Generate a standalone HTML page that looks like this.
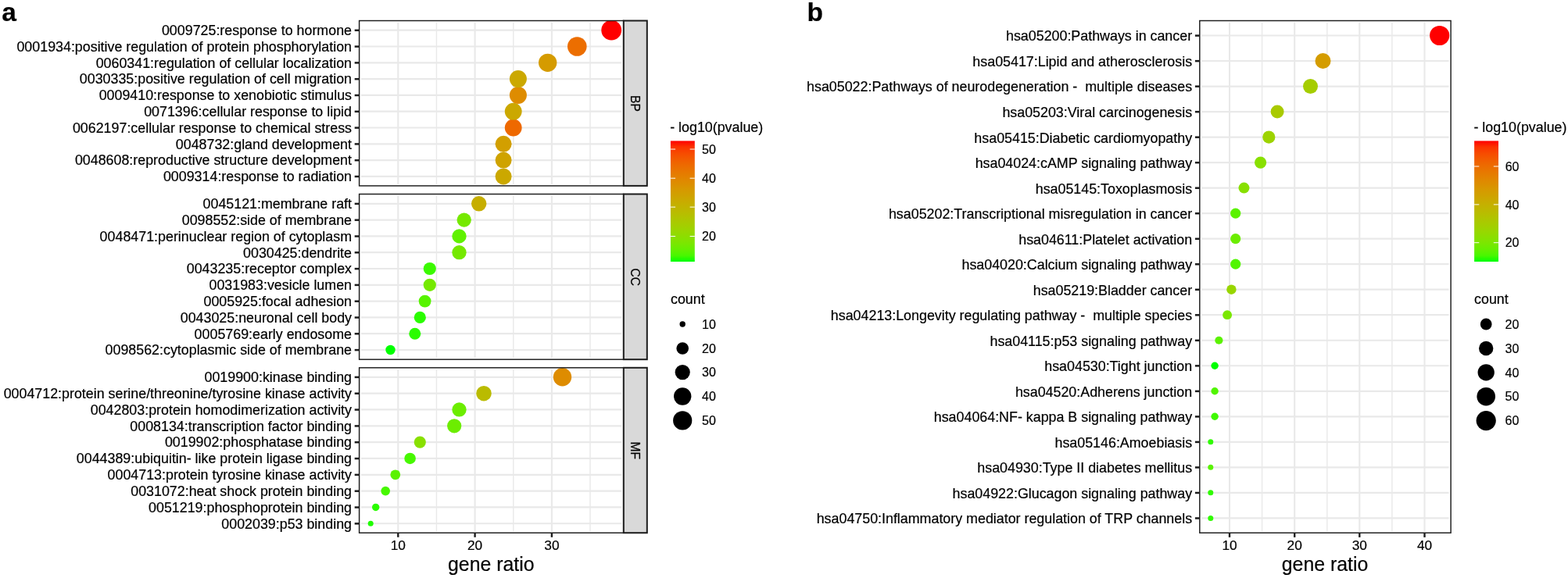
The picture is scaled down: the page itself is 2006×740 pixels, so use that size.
<!DOCTYPE html>
<html lang="en">
<head>
<meta charset="utf-8">
<title>GO and KEGG enrichment bubble plots</title>
<style>
html,body{margin:0;padding:0;background:#ffffff;}
body{width:2006px;height:740px;overflow:hidden;}
svg{display:block;font-family:"Liberation Sans",Arial,Helvetica,sans-serif;}
text{fill:#000000;stroke:#000000;stroke-width:0.2px;white-space:pre;}
</style>
</head>
<body>
<svg width="2006" height="740" viewBox="0 0 2006 740">
<rect x="0" y="0" width="2006" height="740" fill="#ffffff"/>
<rect x="459.6" y="26.5" width="338.20" height="211.40" fill="#ffffff"/>
<line x1="558.45" x2="558.45" y1="28.50" y2="235.90" stroke="#e9e9e9" stroke-width="1.4"/>
<line x1="656.75" x2="656.75" y1="28.50" y2="235.90" stroke="#e9e9e9" stroke-width="1.4"/>
<line x1="755.00" x2="755.00" y1="28.50" y2="235.90" stroke="#e9e9e9" stroke-width="1.4"/>
<line x1="509.30" x2="509.30" y1="28.50" y2="235.90" stroke="#e9e9e9" stroke-width="2.1"/>
<line x1="607.60" x2="607.60" y1="28.50" y2="235.90" stroke="#e9e9e9" stroke-width="2.1"/>
<line x1="705.90" x2="705.90" y1="28.50" y2="235.90" stroke="#e9e9e9" stroke-width="2.1"/>
<line x1="462.10" x2="795.30" y1="38.70" y2="38.70" stroke="#e9e9e9" stroke-width="2.2"/>
<line x1="462.10" x2="795.30" y1="59.50" y2="59.50" stroke="#e9e9e9" stroke-width="2.2"/>
<line x1="462.10" x2="795.30" y1="80.30" y2="80.30" stroke="#e9e9e9" stroke-width="2.2"/>
<line x1="462.10" x2="795.30" y1="101.10" y2="101.10" stroke="#e9e9e9" stroke-width="2.2"/>
<line x1="462.10" x2="795.30" y1="121.90" y2="121.90" stroke="#e9e9e9" stroke-width="2.2"/>
<line x1="462.10" x2="795.30" y1="142.70" y2="142.70" stroke="#e9e9e9" stroke-width="2.2"/>
<line x1="462.10" x2="795.30" y1="163.50" y2="163.50" stroke="#e9e9e9" stroke-width="2.2"/>
<line x1="462.10" x2="795.30" y1="184.30" y2="184.30" stroke="#e9e9e9" stroke-width="2.2"/>
<line x1="462.10" x2="795.30" y1="205.10" y2="205.10" stroke="#e9e9e9" stroke-width="2.2"/>
<line x1="462.10" x2="795.30" y1="225.90" y2="225.90" stroke="#e9e9e9" stroke-width="2.2"/>
<clipPath id="cp1"><rect x="459.6" y="26.5" width="338.20" height="211.40"/></clipPath>
<g clip-path="url(#cp1)">
<circle cx="644.10" cy="225.90" r="10.50" fill="#cba800"/>
<circle cx="644.10" cy="205.10" r="10.50" fill="#cfa300"/>
<circle cx="644.10" cy="184.30" r="10.50" fill="#d29f00"/>
<circle cx="656.70" cy="163.50" r="10.90" fill="#ee6900"/>
<circle cx="656.70" cy="142.70" r="10.90" fill="#cba800"/>
<circle cx="662.90" cy="121.90" r="11.00" fill="#de8c00"/>
<circle cx="662.90" cy="101.10" r="11.00" fill="#cba800"/>
<circle cx="700.70" cy="80.30" r="11.65" fill="#d59b00"/>
<circle cx="738.30" cy="59.50" r="12.30" fill="#ec6e00"/>
<circle cx="782.20" cy="38.70" r="12.90" fill="#ff0000"/>
</g>
<rect x="459.6" y="26.5" width="338.20" height="211.40" fill="none" stroke="#1c1c1c" stroke-width="1.45"/>
<line x1="453.70" x2="459.60" y1="38.80" y2="38.80" stroke="#1c1c1c" stroke-width="2.5"/>
<text xml:space="preserve" x="450.00" y="45.00" font-size="17.85px" text-anchor="end">0009725:response to hormone</text>
<line x1="453.70" x2="459.60" y1="59.60" y2="59.60" stroke="#1c1c1c" stroke-width="2.5"/>
<text xml:space="preserve" x="450.00" y="65.80" font-size="17.85px" text-anchor="end">0001934:positive regulation of protein phosphorylation</text>
<line x1="453.70" x2="459.60" y1="80.40" y2="80.40" stroke="#1c1c1c" stroke-width="2.5"/>
<text xml:space="preserve" x="450.00" y="86.60" font-size="17.85px" text-anchor="end">0060341:regulation of cellular localization</text>
<line x1="453.70" x2="459.60" y1="101.20" y2="101.20" stroke="#1c1c1c" stroke-width="2.5"/>
<text xml:space="preserve" x="450.00" y="107.40" font-size="17.85px" text-anchor="end">0030335:positive regulation of cell migration</text>
<line x1="453.70" x2="459.60" y1="122.00" y2="122.00" stroke="#1c1c1c" stroke-width="2.5"/>
<text xml:space="preserve" x="450.00" y="128.20" font-size="17.85px" text-anchor="end">0009410:response to xenobiotic stimulus</text>
<line x1="453.70" x2="459.60" y1="142.80" y2="142.80" stroke="#1c1c1c" stroke-width="2.5"/>
<text xml:space="preserve" x="450.00" y="149.00" font-size="17.85px" text-anchor="end">0071396:cellular response to lipid</text>
<line x1="453.70" x2="459.60" y1="163.60" y2="163.60" stroke="#1c1c1c" stroke-width="2.5"/>
<text xml:space="preserve" x="450.00" y="169.80" font-size="17.85px" text-anchor="end">0062197:cellular response to chemical stress</text>
<line x1="453.70" x2="459.60" y1="184.40" y2="184.40" stroke="#1c1c1c" stroke-width="2.5"/>
<text xml:space="preserve" x="450.00" y="190.60" font-size="17.85px" text-anchor="end">0048732:gland development</text>
<line x1="453.70" x2="459.60" y1="205.20" y2="205.20" stroke="#1c1c1c" stroke-width="2.5"/>
<text xml:space="preserve" x="450.00" y="211.40" font-size="17.85px" text-anchor="end">0048608:reproductive structure development</text>
<line x1="453.70" x2="459.60" y1="226.00" y2="226.00" stroke="#1c1c1c" stroke-width="2.5"/>
<text xml:space="preserve" x="450.00" y="232.20" font-size="17.85px" text-anchor="end">0009314:response to radiation</text>
<rect x="797.8" y="26.5" width="30.00" height="211.40" fill="#d9d9d9" stroke="#1c1c1c" stroke-width="2"/>
<text x="813.00" y="132.50" font-size="15.6px" text-anchor="middle" transform="rotate(90 813.00 132.50)" dy="5.6">BP</text>
<rect x="459.6" y="248.5" width="338.20" height="211.70" fill="#ffffff"/>
<line x1="558.45" x2="558.45" y1="250.50" y2="458.20" stroke="#e9e9e9" stroke-width="1.4"/>
<line x1="656.75" x2="656.75" y1="250.50" y2="458.20" stroke="#e9e9e9" stroke-width="1.4"/>
<line x1="755.00" x2="755.00" y1="250.50" y2="458.20" stroke="#e9e9e9" stroke-width="1.4"/>
<line x1="509.30" x2="509.30" y1="250.50" y2="458.20" stroke="#e9e9e9" stroke-width="2.1"/>
<line x1="607.60" x2="607.60" y1="250.50" y2="458.20" stroke="#e9e9e9" stroke-width="2.1"/>
<line x1="705.90" x2="705.90" y1="250.50" y2="458.20" stroke="#e9e9e9" stroke-width="2.1"/>
<line x1="462.10" x2="795.30" y1="260.80" y2="260.80" stroke="#e9e9e9" stroke-width="2.2"/>
<line x1="462.10" x2="795.30" y1="281.60" y2="281.60" stroke="#e9e9e9" stroke-width="2.2"/>
<line x1="462.10" x2="795.30" y1="302.40" y2="302.40" stroke="#e9e9e9" stroke-width="2.2"/>
<line x1="462.10" x2="795.30" y1="323.20" y2="323.20" stroke="#e9e9e9" stroke-width="2.2"/>
<line x1="462.10" x2="795.30" y1="344.00" y2="344.00" stroke="#e9e9e9" stroke-width="2.2"/>
<line x1="462.10" x2="795.30" y1="364.80" y2="364.80" stroke="#e9e9e9" stroke-width="2.2"/>
<line x1="462.10" x2="795.30" y1="385.60" y2="385.60" stroke="#e9e9e9" stroke-width="2.2"/>
<line x1="462.10" x2="795.30" y1="406.40" y2="406.40" stroke="#e9e9e9" stroke-width="2.2"/>
<line x1="462.10" x2="795.30" y1="427.20" y2="427.20" stroke="#e9e9e9" stroke-width="2.2"/>
<line x1="462.10" x2="795.30" y1="448.00" y2="448.00" stroke="#e9e9e9" stroke-width="2.2"/>
<clipPath id="cp2"><rect x="459.6" y="248.5" width="338.20" height="211.70"/></clipPath>
<g clip-path="url(#cp2)">
<circle cx="499.50" cy="448.00" r="6.20" fill="#00ff00"/>
<circle cx="530.80" cy="427.20" r="7.50" fill="#2afc00"/>
<circle cx="537.30" cy="406.40" r="7.60" fill="#2afc00"/>
<circle cx="543.60" cy="385.60" r="7.90" fill="#57f400"/>
<circle cx="549.80" cy="364.80" r="8.10" fill="#75e900"/>
<circle cx="549.80" cy="344.00" r="8.10" fill="#3bfa00"/>
<circle cx="587.50" cy="323.20" r="9.15" fill="#75e900"/>
<circle cx="587.50" cy="302.40" r="9.15" fill="#60f100"/>
<circle cx="593.70" cy="281.60" r="9.15" fill="#75e900"/>
<circle cx="612.70" cy="260.80" r="9.70" fill="#c6ae00"/>
</g>
<rect x="459.6" y="248.5" width="338.20" height="211.70" fill="none" stroke="#1c1c1c" stroke-width="1.45"/>
<line x1="453.70" x2="459.60" y1="260.90" y2="260.90" stroke="#1c1c1c" stroke-width="2.5"/>
<text xml:space="preserve" x="450.00" y="267.10" font-size="17.85px" text-anchor="end">0045121:membrane raft</text>
<line x1="453.70" x2="459.60" y1="281.70" y2="281.70" stroke="#1c1c1c" stroke-width="2.5"/>
<text xml:space="preserve" x="450.00" y="287.90" font-size="17.85px" text-anchor="end">0098552:side of membrane</text>
<line x1="453.70" x2="459.60" y1="302.50" y2="302.50" stroke="#1c1c1c" stroke-width="2.5"/>
<text xml:space="preserve" x="450.00" y="308.70" font-size="17.85px" text-anchor="end">0048471:perinuclear region of cytoplasm</text>
<line x1="453.70" x2="459.60" y1="323.30" y2="323.30" stroke="#1c1c1c" stroke-width="2.5"/>
<text xml:space="preserve" x="450.00" y="329.50" font-size="17.85px" text-anchor="end">0030425:dendrite</text>
<line x1="453.70" x2="459.60" y1="344.10" y2="344.10" stroke="#1c1c1c" stroke-width="2.5"/>
<text xml:space="preserve" x="450.00" y="350.30" font-size="17.85px" text-anchor="end">0043235:receptor complex</text>
<line x1="453.70" x2="459.60" y1="364.90" y2="364.90" stroke="#1c1c1c" stroke-width="2.5"/>
<text xml:space="preserve" x="450.00" y="371.10" font-size="17.85px" text-anchor="end">0031983:vesicle lumen</text>
<line x1="453.70" x2="459.60" y1="385.70" y2="385.70" stroke="#1c1c1c" stroke-width="2.5"/>
<text xml:space="preserve" x="450.00" y="391.90" font-size="17.85px" text-anchor="end">0005925:focal adhesion</text>
<line x1="453.70" x2="459.60" y1="406.50" y2="406.50" stroke="#1c1c1c" stroke-width="2.5"/>
<text xml:space="preserve" x="450.00" y="412.70" font-size="17.85px" text-anchor="end">0043025:neuronal cell body</text>
<line x1="453.70" x2="459.60" y1="427.30" y2="427.30" stroke="#1c1c1c" stroke-width="2.5"/>
<text xml:space="preserve" x="450.00" y="433.50" font-size="17.85px" text-anchor="end">0005769:early endosome</text>
<line x1="453.70" x2="459.60" y1="448.10" y2="448.10" stroke="#1c1c1c" stroke-width="2.5"/>
<text xml:space="preserve" x="450.00" y="454.30" font-size="17.85px" text-anchor="end">0098562:cytoplasmic side of membrane</text>
<rect x="797.8" y="248.5" width="30.00" height="211.70" fill="#d9d9d9" stroke="#1c1c1c" stroke-width="2"/>
<text x="813.00" y="354.65" font-size="15.6px" text-anchor="middle" transform="rotate(90 813.00 354.65)" dy="5.6">CC</text>
<rect x="459.6" y="470.8" width="338.20" height="211.40" fill="#ffffff"/>
<line x1="558.45" x2="558.45" y1="472.80" y2="680.20" stroke="#e9e9e9" stroke-width="1.4"/>
<line x1="656.75" x2="656.75" y1="472.80" y2="680.20" stroke="#e9e9e9" stroke-width="1.4"/>
<line x1="755.00" x2="755.00" y1="472.80" y2="680.20" stroke="#e9e9e9" stroke-width="1.4"/>
<line x1="509.30" x2="509.30" y1="472.80" y2="680.20" stroke="#e9e9e9" stroke-width="2.1"/>
<line x1="607.60" x2="607.60" y1="472.80" y2="680.20" stroke="#e9e9e9" stroke-width="2.1"/>
<line x1="705.90" x2="705.90" y1="472.80" y2="680.20" stroke="#e9e9e9" stroke-width="2.1"/>
<line x1="462.10" x2="795.30" y1="482.80" y2="482.80" stroke="#e9e9e9" stroke-width="2.2"/>
<line x1="462.10" x2="795.30" y1="503.63" y2="503.63" stroke="#e9e9e9" stroke-width="2.2"/>
<line x1="462.10" x2="795.30" y1="524.46" y2="524.46" stroke="#e9e9e9" stroke-width="2.2"/>
<line x1="462.10" x2="795.30" y1="545.29" y2="545.29" stroke="#e9e9e9" stroke-width="2.2"/>
<line x1="462.10" x2="795.30" y1="566.12" y2="566.12" stroke="#e9e9e9" stroke-width="2.2"/>
<line x1="462.10" x2="795.30" y1="586.95" y2="586.95" stroke="#e9e9e9" stroke-width="2.2"/>
<line x1="462.10" x2="795.30" y1="607.78" y2="607.78" stroke="#e9e9e9" stroke-width="2.2"/>
<line x1="462.10" x2="795.30" y1="628.61" y2="628.61" stroke="#e9e9e9" stroke-width="2.2"/>
<line x1="462.10" x2="795.30" y1="649.44" y2="649.44" stroke="#e9e9e9" stroke-width="2.2"/>
<line x1="462.10" x2="795.30" y1="670.27" y2="670.27" stroke="#e9e9e9" stroke-width="2.2"/>
<clipPath id="cp3"><rect x="459.6" y="470.8" width="338.20" height="211.40"/></clipPath>
<g clip-path="url(#cp3)">
<circle cx="474.20" cy="670.27" r="3.50" fill="#1ffd00"/>
<circle cx="480.70" cy="649.44" r="4.70" fill="#2afc00"/>
<circle cx="493.20" cy="628.61" r="5.80" fill="#47f800"/>
<circle cx="505.80" cy="607.78" r="6.40" fill="#5bf200"/>
<circle cx="524.60" cy="586.95" r="7.30" fill="#47f800"/>
<circle cx="537.30" cy="566.12" r="7.60" fill="#88e000"/>
<circle cx="581.20" cy="545.29" r="9.10" fill="#6ced00"/>
<circle cx="587.50" cy="524.46" r="9.15" fill="#6ced00"/>
<circle cx="619.00" cy="503.63" r="9.75" fill="#babb00"/>
<circle cx="719.50" cy="482.80" r="11.70" fill="#de8c00"/>
</g>
<rect x="459.6" y="470.8" width="338.20" height="211.40" fill="none" stroke="#1c1c1c" stroke-width="1.45"/>
<line x1="453.70" x2="459.60" y1="482.90" y2="482.90" stroke="#1c1c1c" stroke-width="2.5"/>
<text xml:space="preserve" x="450.00" y="489.10" font-size="17.85px" text-anchor="end">0019900:kinase binding</text>
<line x1="453.70" x2="459.60" y1="503.73" y2="503.73" stroke="#1c1c1c" stroke-width="2.5"/>
<text xml:space="preserve" x="450.00" y="509.93" font-size="17.85px" text-anchor="end">0004712:protein serine/threonine/tyrosine kinase activity</text>
<line x1="453.70" x2="459.60" y1="524.56" y2="524.56" stroke="#1c1c1c" stroke-width="2.5"/>
<text xml:space="preserve" x="450.00" y="530.76" font-size="17.85px" text-anchor="end">0042803:protein homodimerization activity</text>
<line x1="453.70" x2="459.60" y1="545.39" y2="545.39" stroke="#1c1c1c" stroke-width="2.5"/>
<text xml:space="preserve" x="450.00" y="551.59" font-size="17.85px" text-anchor="end">0008134:transcription factor binding</text>
<line x1="453.70" x2="459.60" y1="566.22" y2="566.22" stroke="#1c1c1c" stroke-width="2.5"/>
<text xml:space="preserve" x="450.00" y="572.42" font-size="17.85px" text-anchor="end">0019902:phosphatase binding</text>
<line x1="453.70" x2="459.60" y1="587.05" y2="587.05" stroke="#1c1c1c" stroke-width="2.5"/>
<text xml:space="preserve" x="450.00" y="593.25" font-size="17.85px" text-anchor="end">0044389:ubiquitin- like protein ligase binding</text>
<line x1="453.70" x2="459.60" y1="607.88" y2="607.88" stroke="#1c1c1c" stroke-width="2.5"/>
<text xml:space="preserve" x="450.00" y="614.08" font-size="17.85px" text-anchor="end">0004713:protein tyrosine kinase activity</text>
<line x1="453.70" x2="459.60" y1="628.71" y2="628.71" stroke="#1c1c1c" stroke-width="2.5"/>
<text xml:space="preserve" x="450.00" y="634.91" font-size="17.85px" text-anchor="end">0031072:heat shock protein binding</text>
<line x1="453.70" x2="459.60" y1="649.54" y2="649.54" stroke="#1c1c1c" stroke-width="2.5"/>
<text xml:space="preserve" x="450.00" y="655.74" font-size="17.85px" text-anchor="end">0051219:phosphoprotein binding</text>
<line x1="453.70" x2="459.60" y1="670.37" y2="670.37" stroke="#1c1c1c" stroke-width="2.5"/>
<text xml:space="preserve" x="450.00" y="676.57" font-size="17.85px" text-anchor="end">0002039:p53 binding</text>
<rect x="797.8" y="470.8" width="30.00" height="211.40" fill="#d9d9d9" stroke="#1c1c1c" stroke-width="2"/>
<text x="813.00" y="576.80" font-size="15.6px" text-anchor="middle" transform="rotate(90 813.00 576.80)" dy="5.6">MF</text>
<line x1="509.30" x2="509.30" y1="682.20" y2="687.80" stroke="#1c1c1c" stroke-width="2.4"/>
<text xml:space="preserve" x="509.30" y="704.00" font-size="17.3px" text-anchor="middle">10</text>
<line x1="607.60" x2="607.60" y1="682.20" y2="687.80" stroke="#1c1c1c" stroke-width="2.4"/>
<text xml:space="preserve" x="607.60" y="704.00" font-size="17.3px" text-anchor="middle">20</text>
<line x1="705.90" x2="705.90" y1="682.20" y2="687.80" stroke="#1c1c1c" stroke-width="2.4"/>
<text xml:space="preserve" x="705.90" y="704.00" font-size="17.3px" text-anchor="middle">30</text>
<text xml:space="preserve" x="628.30" y="730.70" font-size="24.85px" text-anchor="middle">gene ratio</text>
<text xml:space="preserve" x="2.20" y="26.80" font-size="33.5px" text-anchor="start" font-weight="bold">a</text>
<defs><linearGradient id="ga" x1="0" y1="1" x2="0" y2="0">
<stop offset="0.00" stop-color="#00ff00"/>
<stop offset="0.05" stop-color="#49f700"/>
<stop offset="0.10" stop-color="#65ef00"/>
<stop offset="0.15" stop-color="#7ae700"/>
<stop offset="0.20" stop-color="#8adf00"/>
<stop offset="0.25" stop-color="#98d700"/>
<stop offset="0.30" stop-color="#a4ce00"/>
<stop offset="0.35" stop-color="#aec600"/>
<stop offset="0.40" stop-color="#b8bd00"/>
<stop offset="0.45" stop-color="#c1b400"/>
<stop offset="0.50" stop-color="#c9ab00"/>
<stop offset="0.55" stop-color="#d0a100"/>
<stop offset="0.60" stop-color="#d79800"/>
<stop offset="0.65" stop-color="#dd8d00"/>
<stop offset="0.70" stop-color="#e38200"/>
<stop offset="0.75" stop-color="#e87600"/>
<stop offset="0.80" stop-color="#ed6a00"/>
<stop offset="0.85" stop-color="#f25b00"/>
<stop offset="0.90" stop-color="#f74a00"/>
<stop offset="0.95" stop-color="#fb3300"/>
<stop offset="1.00" stop-color="#ff0000"/>
</linearGradient></defs>
<rect x="857.9" y="180.4" width="30.9" height="154.60" fill="url(#ga)"/>
<line x1="857.90" x2="864.08" y1="191.00" y2="191.00" stroke="#ffffff" stroke-width="1.0"/>
<line x1="882.62" x2="888.80" y1="191.00" y2="191.00" stroke="#ffffff" stroke-width="1.0"/>
<text xml:space="preserve" x="898.00" y="196.70" font-size="16px" text-anchor="start">50</text>
<line x1="857.90" x2="864.08" y1="228.20" y2="228.20" stroke="#ffffff" stroke-width="1.0"/>
<line x1="882.62" x2="888.80" y1="228.20" y2="228.20" stroke="#ffffff" stroke-width="1.0"/>
<text xml:space="preserve" x="898.00" y="233.90" font-size="16px" text-anchor="start">40</text>
<line x1="857.90" x2="864.08" y1="265.10" y2="265.10" stroke="#ffffff" stroke-width="1.0"/>
<line x1="882.62" x2="888.80" y1="265.10" y2="265.10" stroke="#ffffff" stroke-width="1.0"/>
<text xml:space="preserve" x="898.00" y="270.80" font-size="16px" text-anchor="start">30</text>
<line x1="857.90" x2="864.08" y1="302.50" y2="302.50" stroke="#ffffff" stroke-width="1.0"/>
<line x1="882.62" x2="888.80" y1="302.50" y2="302.50" stroke="#ffffff" stroke-width="1.0"/>
<text xml:space="preserve" x="898.00" y="308.20" font-size="16px" text-anchor="start">20</text>
<text xml:space="preserve" x="857.20" y="169.20" font-size="17.85px" text-anchor="start">- log10(pvalue)</text>
<text xml:space="preserve" x="858.00" y="389.25" font-size="17.85px" text-anchor="start">count</text>
<circle cx="873.20" cy="415.00" r="3.70" fill="#000000"/>
<text xml:space="preserve" x="898.00" y="420.70" font-size="16px" text-anchor="start">10</text>
<circle cx="873.20" cy="446.00" r="7.80" fill="#000000"/>
<text xml:space="preserve" x="898.00" y="451.70" font-size="16px" text-anchor="start">20</text>
<circle cx="873.20" cy="476.60" r="9.60" fill="#000000"/>
<text xml:space="preserve" x="898.00" y="482.30" font-size="16px" text-anchor="start">30</text>
<circle cx="873.20" cy="507.50" r="11.20" fill="#000000"/>
<text xml:space="preserve" x="898.00" y="513.20" font-size="16px" text-anchor="start">40</text>
<circle cx="873.20" cy="538.40" r="12.10" fill="#000000"/>
<text xml:space="preserve" x="898.00" y="544.10" font-size="16px" text-anchor="start">50</text>
<rect x="1534.8" y="26.5" width="321.30" height="655.70" fill="#ffffff"/>
<line x1="1614.60" x2="1614.60" y1="28.50" y2="680.20" stroke="#e9e9e9" stroke-width="1.4"/>
<line x1="1697.80" x2="1697.80" y1="28.50" y2="680.20" stroke="#e9e9e9" stroke-width="1.4"/>
<line x1="1780.90" x2="1780.90" y1="28.50" y2="680.20" stroke="#e9e9e9" stroke-width="1.4"/>
<line x1="1573.00" x2="1573.00" y1="28.50" y2="680.20" stroke="#e9e9e9" stroke-width="2.1"/>
<line x1="1656.20" x2="1656.20" y1="28.50" y2="680.20" stroke="#e9e9e9" stroke-width="2.1"/>
<line x1="1739.30" x2="1739.30" y1="28.50" y2="680.20" stroke="#e9e9e9" stroke-width="2.1"/>
<line x1="1822.50" x2="1822.50" y1="28.50" y2="680.20" stroke="#e9e9e9" stroke-width="2.1"/>
<line x1="1537.30" x2="1853.60" y1="45.50" y2="45.50" stroke="#e9e9e9" stroke-width="2.2"/>
<line x1="1537.30" x2="1853.60" y1="78.02" y2="78.02" stroke="#e9e9e9" stroke-width="2.2"/>
<line x1="1537.30" x2="1853.60" y1="110.54" y2="110.54" stroke="#e9e9e9" stroke-width="2.2"/>
<line x1="1537.30" x2="1853.60" y1="143.06" y2="143.06" stroke="#e9e9e9" stroke-width="2.2"/>
<line x1="1537.30" x2="1853.60" y1="175.58" y2="175.58" stroke="#e9e9e9" stroke-width="2.2"/>
<line x1="1537.30" x2="1853.60" y1="208.10" y2="208.10" stroke="#e9e9e9" stroke-width="2.2"/>
<line x1="1537.30" x2="1853.60" y1="240.62" y2="240.62" stroke="#e9e9e9" stroke-width="2.2"/>
<line x1="1537.30" x2="1853.60" y1="273.14" y2="273.14" stroke="#e9e9e9" stroke-width="2.2"/>
<line x1="1537.30" x2="1853.60" y1="305.66" y2="305.66" stroke="#e9e9e9" stroke-width="2.2"/>
<line x1="1537.30" x2="1853.60" y1="338.18" y2="338.18" stroke="#e9e9e9" stroke-width="2.2"/>
<line x1="1537.30" x2="1853.60" y1="370.70" y2="370.70" stroke="#e9e9e9" stroke-width="2.2"/>
<line x1="1537.30" x2="1853.60" y1="403.22" y2="403.22" stroke="#e9e9e9" stroke-width="2.2"/>
<line x1="1537.30" x2="1853.60" y1="435.74" y2="435.74" stroke="#e9e9e9" stroke-width="2.2"/>
<line x1="1537.30" x2="1853.60" y1="468.26" y2="468.26" stroke="#e9e9e9" stroke-width="2.2"/>
<line x1="1537.30" x2="1853.60" y1="500.78" y2="500.78" stroke="#e9e9e9" stroke-width="2.2"/>
<line x1="1537.30" x2="1853.60" y1="533.30" y2="533.30" stroke="#e9e9e9" stroke-width="2.2"/>
<line x1="1537.30" x2="1853.60" y1="565.82" y2="565.82" stroke="#e9e9e9" stroke-width="2.2"/>
<line x1="1537.30" x2="1853.60" y1="598.34" y2="598.34" stroke="#e9e9e9" stroke-width="2.2"/>
<line x1="1537.30" x2="1853.60" y1="630.86" y2="630.86" stroke="#e9e9e9" stroke-width="2.2"/>
<line x1="1537.30" x2="1853.60" y1="663.38" y2="663.38" stroke="#e9e9e9" stroke-width="2.2"/>
<clipPath id="cp4"><rect x="1534.8" y="26.5" width="321.30" height="655.70"/></clipPath>
<g clip-path="url(#cp4)">
<circle cx="1548.80" cy="663.38" r="3.50" fill="#30fb00"/>
<circle cx="1548.80" cy="630.86" r="3.50" fill="#30fb00"/>
<circle cx="1548.80" cy="598.34" r="3.50" fill="#59f300"/>
<circle cx="1548.80" cy="565.82" r="3.50" fill="#30fb00"/>
<circle cx="1554.10" cy="533.30" r="4.70" fill="#3ff900"/>
<circle cx="1554.10" cy="500.78" r="4.70" fill="#51f500"/>
<circle cx="1554.10" cy="468.26" r="4.70" fill="#00ff00"/>
<circle cx="1559.40" cy="435.74" r="5.10" fill="#5bf200"/>
<circle cx="1570.10" cy="403.22" r="5.90" fill="#7ae700"/>
<circle cx="1575.40" cy="370.70" r="6.20" fill="#98d600"/>
<circle cx="1580.70" cy="338.18" r="6.60" fill="#51f500"/>
<circle cx="1580.70" cy="305.66" r="6.60" fill="#6ced00"/>
<circle cx="1580.70" cy="273.14" r="6.60" fill="#5bf200"/>
<circle cx="1591.50" cy="240.62" r="7.00" fill="#88e000"/>
<circle cx="1612.60" cy="208.10" r="7.60" fill="#88e000"/>
<circle cx="1623.30" cy="175.58" r="8.10" fill="#9dd300"/>
<circle cx="1634.10" cy="143.06" r="8.45" fill="#a9ca00"/>
<circle cx="1676.50" cy="110.54" r="9.50" fill="#a5cd00"/>
<circle cx="1692.50" cy="78.02" r="10.00" fill="#d49c00"/>
<circle cx="1841.70" cy="45.50" r="12.60" fill="#ff0000"/>
</g>
<rect x="1534.8" y="26.5" width="321.30" height="655.70" fill="none" stroke="#1c1c1c" stroke-width="1.45"/>
<line x1="1528.90" x2="1534.80" y1="45.60" y2="45.60" stroke="#1c1c1c" stroke-width="2.5"/>
<text xml:space="preserve" x="1525.10" y="52.45" font-size="17.85px" text-anchor="end">hsa05200:Pathways in cancer</text>
<line x1="1528.90" x2="1534.80" y1="78.12" y2="78.12" stroke="#1c1c1c" stroke-width="2.5"/>
<text xml:space="preserve" x="1525.10" y="84.97" font-size="17.85px" text-anchor="end">hsa05417:Lipid and atherosclerosis</text>
<line x1="1528.90" x2="1534.80" y1="110.64" y2="110.64" stroke="#1c1c1c" stroke-width="2.5"/>
<text xml:space="preserve" x="1525.10" y="117.49" font-size="17.85px" text-anchor="end">hsa05022:Pathways of neurodegeneration -  multiple diseases</text>
<line x1="1528.90" x2="1534.80" y1="143.16" y2="143.16" stroke="#1c1c1c" stroke-width="2.5"/>
<text xml:space="preserve" x="1525.10" y="150.01" font-size="17.85px" text-anchor="end">hsa05203:Viral carcinogenesis</text>
<line x1="1528.90" x2="1534.80" y1="175.68" y2="175.68" stroke="#1c1c1c" stroke-width="2.5"/>
<text xml:space="preserve" x="1525.10" y="182.53" font-size="17.85px" text-anchor="end">hsa05415:Diabetic cardiomyopathy</text>
<line x1="1528.90" x2="1534.80" y1="208.20" y2="208.20" stroke="#1c1c1c" stroke-width="2.5"/>
<text xml:space="preserve" x="1525.10" y="215.05" font-size="17.85px" text-anchor="end">hsa04024:cAMP signaling pathway</text>
<line x1="1528.90" x2="1534.80" y1="240.72" y2="240.72" stroke="#1c1c1c" stroke-width="2.5"/>
<text xml:space="preserve" x="1525.10" y="247.57" font-size="17.85px" text-anchor="end">hsa05145:Toxoplasmosis</text>
<line x1="1528.90" x2="1534.80" y1="273.24" y2="273.24" stroke="#1c1c1c" stroke-width="2.5"/>
<text xml:space="preserve" x="1525.10" y="280.09" font-size="17.85px" text-anchor="end">hsa05202:Transcriptional misregulation in cancer</text>
<line x1="1528.90" x2="1534.80" y1="305.76" y2="305.76" stroke="#1c1c1c" stroke-width="2.5"/>
<text xml:space="preserve" x="1525.10" y="312.61" font-size="17.85px" text-anchor="end">hsa04611:Platelet activation</text>
<line x1="1528.90" x2="1534.80" y1="338.28" y2="338.28" stroke="#1c1c1c" stroke-width="2.5"/>
<text xml:space="preserve" x="1525.10" y="345.13" font-size="17.85px" text-anchor="end">hsa04020:Calcium signaling pathway</text>
<line x1="1528.90" x2="1534.80" y1="370.80" y2="370.80" stroke="#1c1c1c" stroke-width="2.5"/>
<text xml:space="preserve" x="1525.10" y="377.65" font-size="17.85px" text-anchor="end">hsa05219:Bladder cancer</text>
<line x1="1528.90" x2="1534.80" y1="403.32" y2="403.32" stroke="#1c1c1c" stroke-width="2.5"/>
<text xml:space="preserve" x="1525.10" y="410.17" font-size="17.85px" text-anchor="end">hsa04213:Longevity regulating pathway -  multiple species</text>
<line x1="1528.90" x2="1534.80" y1="435.84" y2="435.84" stroke="#1c1c1c" stroke-width="2.5"/>
<text xml:space="preserve" x="1525.10" y="442.69" font-size="17.85px" text-anchor="end">hsa04115:p53 signaling pathway</text>
<line x1="1528.90" x2="1534.80" y1="468.36" y2="468.36" stroke="#1c1c1c" stroke-width="2.5"/>
<text xml:space="preserve" x="1525.10" y="475.21" font-size="17.85px" text-anchor="end">hsa04530:Tight junction</text>
<line x1="1528.90" x2="1534.80" y1="500.88" y2="500.88" stroke="#1c1c1c" stroke-width="2.5"/>
<text xml:space="preserve" x="1525.10" y="507.73" font-size="17.85px" text-anchor="end">hsa04520:Adherens junction</text>
<line x1="1528.90" x2="1534.80" y1="533.40" y2="533.40" stroke="#1c1c1c" stroke-width="2.5"/>
<text xml:space="preserve" x="1525.10" y="540.25" font-size="17.85px" text-anchor="end">hsa04064:NF- kappa B signaling pathway</text>
<line x1="1528.90" x2="1534.80" y1="565.92" y2="565.92" stroke="#1c1c1c" stroke-width="2.5"/>
<text xml:space="preserve" x="1525.10" y="572.77" font-size="17.85px" text-anchor="end">hsa05146:Amoebiasis</text>
<line x1="1528.90" x2="1534.80" y1="598.44" y2="598.44" stroke="#1c1c1c" stroke-width="2.5"/>
<text xml:space="preserve" x="1525.10" y="605.29" font-size="17.85px" text-anchor="end">hsa04930:Type II diabetes mellitus</text>
<line x1="1528.90" x2="1534.80" y1="630.96" y2="630.96" stroke="#1c1c1c" stroke-width="2.5"/>
<text xml:space="preserve" x="1525.10" y="637.81" font-size="17.85px" text-anchor="end">hsa04922:Glucagon signaling pathway</text>
<line x1="1528.90" x2="1534.80" y1="663.48" y2="663.48" stroke="#1c1c1c" stroke-width="2.5"/>
<text xml:space="preserve" x="1525.10" y="670.33" font-size="17.85px" text-anchor="end">hsa04750:Inflammatory mediator regulation of TRP channels</text>
<line x1="1573.00" x2="1573.00" y1="682.20" y2="687.90" stroke="#1c1c1c" stroke-width="2.4"/>
<text xml:space="preserve" x="1573.00" y="704.00" font-size="17.3px" text-anchor="middle">10</text>
<line x1="1656.20" x2="1656.20" y1="682.20" y2="687.90" stroke="#1c1c1c" stroke-width="2.4"/>
<text xml:space="preserve" x="1656.20" y="704.00" font-size="17.3px" text-anchor="middle">20</text>
<line x1="1739.30" x2="1739.30" y1="682.20" y2="687.90" stroke="#1c1c1c" stroke-width="2.4"/>
<text xml:space="preserve" x="1739.30" y="704.00" font-size="17.3px" text-anchor="middle">30</text>
<line x1="1822.50" x2="1822.50" y1="682.20" y2="687.90" stroke="#1c1c1c" stroke-width="2.4"/>
<text xml:space="preserve" x="1822.50" y="704.00" font-size="17.3px" text-anchor="middle">40</text>
<text xml:space="preserve" x="1695.00" y="731.15" font-size="24.85px" text-anchor="middle">gene ratio</text>
<text xml:space="preserve" x="1032.50" y="27.00" font-size="33.5px" text-anchor="start" font-weight="bold">b</text>
<defs><linearGradient id="gb" x1="0" y1="1" x2="0" y2="0">
<stop offset="0.00" stop-color="#00ff00"/>
<stop offset="0.05" stop-color="#49f700"/>
<stop offset="0.10" stop-color="#65ef00"/>
<stop offset="0.15" stop-color="#7ae700"/>
<stop offset="0.20" stop-color="#8adf00"/>
<stop offset="0.25" stop-color="#98d700"/>
<stop offset="0.30" stop-color="#a4ce00"/>
<stop offset="0.35" stop-color="#aec600"/>
<stop offset="0.40" stop-color="#b8bd00"/>
<stop offset="0.45" stop-color="#c1b400"/>
<stop offset="0.50" stop-color="#c9ab00"/>
<stop offset="0.55" stop-color="#d0a100"/>
<stop offset="0.60" stop-color="#d79800"/>
<stop offset="0.65" stop-color="#dd8d00"/>
<stop offset="0.70" stop-color="#e38200"/>
<stop offset="0.75" stop-color="#e87600"/>
<stop offset="0.80" stop-color="#ed6a00"/>
<stop offset="0.85" stop-color="#f25b00"/>
<stop offset="0.90" stop-color="#f74a00"/>
<stop offset="0.95" stop-color="#fb3300"/>
<stop offset="1.00" stop-color="#ff0000"/>
</linearGradient></defs>
<rect x="1886.1" y="180.4" width="30.9" height="154.60" fill="url(#gb)"/>
<line x1="1886.10" x2="1892.28" y1="213.00" y2="213.00" stroke="#ffffff" stroke-width="1.0"/>
<line x1="1910.82" x2="1917.00" y1="213.00" y2="213.00" stroke="#ffffff" stroke-width="1.0"/>
<text xml:space="preserve" x="1925.70" y="218.70" font-size="16px" text-anchor="start">60</text>
<line x1="1886.10" x2="1892.28" y1="261.90" y2="261.90" stroke="#ffffff" stroke-width="1.0"/>
<line x1="1910.82" x2="1917.00" y1="261.90" y2="261.90" stroke="#ffffff" stroke-width="1.0"/>
<text xml:space="preserve" x="1925.70" y="267.60" font-size="16px" text-anchor="start">40</text>
<line x1="1886.10" x2="1892.28" y1="310.70" y2="310.70" stroke="#ffffff" stroke-width="1.0"/>
<line x1="1910.82" x2="1917.00" y1="310.70" y2="310.70" stroke="#ffffff" stroke-width="1.0"/>
<text xml:space="preserve" x="1925.70" y="316.40" font-size="16px" text-anchor="start">20</text>
<text xml:space="preserve" x="1885.40" y="169.20" font-size="17.85px" text-anchor="start">- log10(pvalue)</text>
<text xml:space="preserve" x="1886.10" y="389.25" font-size="17.85px" text-anchor="start">count</text>
<circle cx="1901.20" cy="415.00" r="7.40" fill="#000000"/>
<text xml:space="preserve" x="1925.60" y="420.70" font-size="16px" text-anchor="start">20</text>
<circle cx="1901.20" cy="446.00" r="9.20" fill="#000000"/>
<text xml:space="preserve" x="1925.60" y="451.70" font-size="16px" text-anchor="start">30</text>
<circle cx="1901.20" cy="476.80" r="10.65" fill="#000000"/>
<text xml:space="preserve" x="1925.60" y="482.50" font-size="16px" text-anchor="start">40</text>
<circle cx="1901.20" cy="507.70" r="11.80" fill="#000000"/>
<text xml:space="preserve" x="1925.60" y="513.40" font-size="16px" text-anchor="start">50</text>
<circle cx="1901.20" cy="538.60" r="12.60" fill="#000000"/>
<text xml:space="preserve" x="1925.60" y="544.30" font-size="16px" text-anchor="start">60</text>
</svg>
</body>
</html>
